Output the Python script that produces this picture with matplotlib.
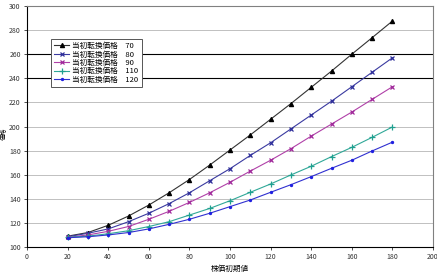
import matplotlib
matplotlib.use("Agg")
import matplotlib.pyplot as plt

plt.rcParams['font.family'] = ['Noto Sans CJK JP', 'DejaVu Sans']

x = [20, 30, 40, 50, 60, 70, 80, 90, 100, 110, 120, 130, 140, 150, 160, 170, 180]
s70 = [109, 112, 118, 125.7, 134.8, 145, 156, 168, 180.5, 193, 206, 219, 232.5, 246, 260, 273.7, 287.5]
s80 = [108.5, 111.4, 115, 121, 128, 136, 145, 155, 165, 176, 186.5, 198, 209.5, 221, 233, 245, 257]
s90 = [108, 110, 113, 117, 123, 129.6, 137, 145, 153.7, 163, 172, 181.6, 192, 202, 212, 222.5, 233]
s110 = [108, 109, 111, 113.5, 117, 121, 126.5, 132, 138.4, 145.4, 152.3, 159.8, 167, 175, 182.7, 191, 199.6]
s120 = [107.7, 108.5, 110, 112, 115, 118.8, 123, 128, 133.5, 139, 145.4, 151.7, 158.4, 165.3, 172, 179.7, 187]
labels = ['当初転換価格　70', '当初転換価格　80', '当初転換価格　90', '当初転換価格　110', '当初転換価格　120']
xlabel = '株価初期値'
ylabel = '価格'

fig = plt.figure(figsize=(4.37, 2.76), dpi=100)
ax = fig.add_axes([27/437, 1 - 247/276, (433-27)/437, (247-6)/276])

series = [
    (s70, '#000000', '^', 3.0, '#333333'),
    (s80, '#2e2e9a', 'x', 3.5, '#3a3aa0'),
    (s90, '#a0289a', 'x', 3.0, '#b040a8'),
    (s110, '#20a090', '+', 4.0, '#30a898'),
    (s120, '#2020e0', '.', 3.0, '#3030d0'),
]
for (ys, mc, m, ms, lc), lab in zip(series, labels):
    ax.plot(x, ys, color=lc, lw=0.8, marker=m, markersize=ms,
            markeredgecolor=mc, markerfacecolor=mc, markeredgewidth=0.9, label=lab)

ax.set_xlim(0, 200)
ax.set_ylim(100, 300)
ax.set_xticks(range(0, 201, 20))
ax.set_yticks(range(100, 301, 20))
for yv in range(120, 301, 20):
    if yv in (240, 260):
        ax.axhline(yv, color='#000000', lw=0.8, zorder=0)
    else:
        ax.axhline(yv, color='#c0c0c0', lw=0.7, zorder=0)
ax.tick_params(labelsize=5, length=2.5, width=0.6, direction='out', pad=2, colors='#333333')
for side in ('left', 'bottom'):
    ax.spines[side].set_color('#000000')
    ax.spines[side].set_linewidth(0.8)
for side in ('top', 'right'):
    ax.spines[side].set_color('#808080')
    ax.spines[side].set_linewidth(0.8)

ax.set_xlabel(xlabel, fontsize=5.5, labelpad=3)
ax.set_ylabel(ylabel, fontsize=4.5)
ax.yaxis.set_label_coords(-19/406, 0.47)

leg = ax.legend(loc='upper left', bbox_to_anchor=((51-27)/406, 1 - (39-6)/241),
                fontsize=5.5, frameon=True, fancybox=False, handlelength=2.0,
                handletextpad=0.4, labelspacing=0.05, borderpad=0.4, borderaxespad=0)
leg.get_frame().set_edgecolor('#555555')
leg.get_frame().set_linewidth(0.7)
leg.get_frame().set_alpha(1)

fig.savefig('out.png', dpi=100)
